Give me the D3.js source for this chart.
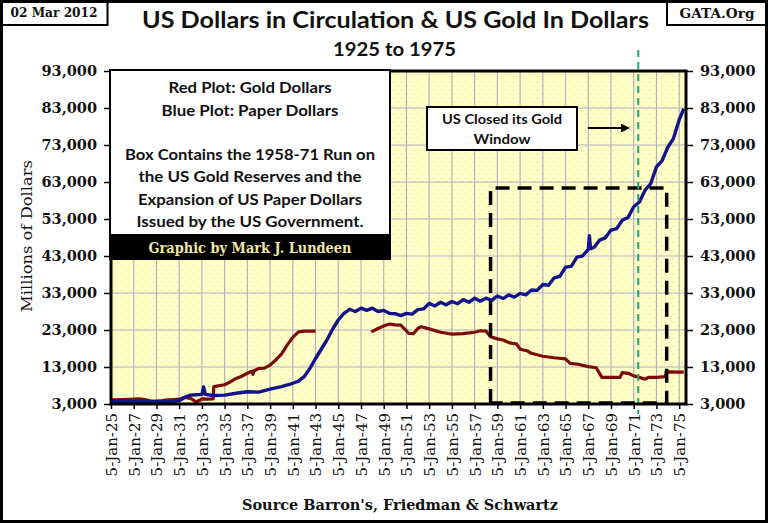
<!DOCTYPE html>
<html>
<head>
<meta charset="utf-8">
<script src="https://cdn.jsdelivr.net/npm/d3@7"></script>
<style>
  html, body { margin: 0; padding: 0; background: #fff; }
  svg { display: block; }
</style>
</head>
<body>
<svg id="chart" width="768" height="523"></svg>
<script>
// ---------------- DATA ----------------
const yTickValues = [3000, 13000, 23000, 33000, 43000, 53000, 63000, 73000, 83000, 93000];
const xTickYears = d3.range(1925, 1976, 2);
const xTickLabels = xTickYears.map(y => "5-Jan-" + String(y).slice(2));

// Blue plot: paper dollars (millions)
const blueYears = [1925, 1926, 1927, 1928, 1929, 1930, 1930.5, 1931, 1931.5, 1932, 1932.5, 1933, 1933.15, 1933.3,
  1934, 1935, 1936, 1937, 1938, 1939, 1940, 1941, 1941.5, 1942, 1942.5, 1943, 1943.5, 1944, 1944.5, 1945, 1945.5,
  1946, 1946.5, 1947, 1947.5, 1948, 1948.5, 1949, 1949.5, 1950, 1950.5, 1951, 1951.5, 1952, 1952.5, 1953, 1953.5,
  1954, 1954.5, 1955, 1955.5, 1956, 1956.5, 1957, 1957.5, 1958, 1958.5, 1959, 1959.5, 1960, 1960.5, 1961, 1961.5,
  1962, 1962.5, 1963, 1963.5, 1964, 1964.5, 1965, 1965.5, 1966, 1966.5, 1967, 1967.1, 1967.2, 1967.5, 1968, 1968.5,
  1969, 1969.5, 1970, 1970.5, 1971, 1971.5, 1972, 1972.5, 1973, 1973.5, 1974, 1974.5, 1975, 1975.4];
const blueValues = [3700, 3800, 3700, 3700, 3600, 3600, 3700, 3900, 4800, 5400, 5500, 5600, 7600, 5600,
  5300, 5400, 5900, 6300, 6200, 7000, 7700, 8600, 9200, 10400, 12600, 15300, 17800, 20300, 23200, 25700, 27500,
  28600, 28000, 28900, 28300, 28900, 28000, 28300, 27500, 27400, 26900, 27500, 27300, 28500, 28700, 30200, 29500,
  30500, 29800, 30700, 30100, 31200, 30500, 31600, 30800, 31600, 31000, 32200, 31500, 32500, 31900, 32900, 32500,
  33800, 33700, 35300, 35100, 37100, 37500, 40000, 40200, 42700, 43000, 44800, 48500, 45000, 45300, 47300, 47900,
  50000, 50400, 52700, 53400, 56300, 57600, 60800, 62600, 67100, 68800, 72400, 74800, 79800, 82800];

// Red plot: gold dollars (millions); null = no data
const redYears = [1925, 1926, 1927, 1927.5, 1928, 1928.5, 1929, 1929.5, 1930, 1930.5, 1931, 1931.5, 1932, 1932.5,
  1932.8, 1933, 1933.5, 1933.99, 1934.05, 1935, 1935.5, 1936, 1936.5, 1937, 1937.4, 1937.5, 1937.6, 1938, 1938.5,
  1939, 1939.5, 1940, 1940.5, 1941, 1941.5, 1942, 1943, 1943.1, 1947.9, 1948.5, 1949, 1949.5, 1950, 1950.5, 1950.8,
  1951.2, 1951.6, 1952, 1952.3, 1953, 1954, 1955, 1956, 1957, 1957.5, 1958, 1958.4, 1959, 1959.5, 1960, 1960.7,
  1961, 1961.6, 1962, 1963, 1964, 1965, 1965.4, 1966, 1967, 1967.7, 1968.2, 1969.8, 1970, 1970.5, 1971, 1971.5,
  1972, 1972.3, 1973, 1973.8, 1973.85, 1975.4];
const redValues = [4100, 4200, 4300, 4400, 4200, 3800, 3800, 3900, 4100, 4200, 4300, 4800, 4500, 3600,
  4000, 4400, 4300, 4400, 7700, 8200, 9000, 9900, 10500, 11300, 11900, 11000, 12000, 12600, 12700,
  13500, 14900, 16500, 18900, 21000, 22500, 22700, 22700, null, 22500, 23400, 24100, 24600, 24400, 24300, 23400,
  22100, 22000, 23400, 23900, 23300, 22400, 21900, 22000, 22400, 22800, 22700, 21200, 20600, 20300, 19600, 19200,
  17800, 17400, 16700, 15900, 15500, 15200, 14000, 13800, 13100, 12800, 10200, 10200, 11500, 11300, 10600, 10200,
  9700, 10200, 10200, 10400, 11700, 11600];

// Annotation values
const boxYears = [1958.4, 1973.9];
const boxValues = [3300, 61400];
const goldWindowYear = 1971.4;
const legendLines = ["Red Plot: Gold Dollars", "Blue Plot: Paper Dollars", "",
  "Box Contains the 1958-71 Run on", "the US Gold Reserves and the",
  "Expansion of US Paper Dollars", "Issued by the US Government."];

// ---------------- DRAW ----------------
const svg = d3.select("#chart");
const W = 768, H = 523;
const L = 111, R = 686, T = 71, B = 404;

const x = d3.scaleLinear().domain([1925, 1975.6]).range([L, R]);
const y = d3.scaleLinear().domain([3000, 93000]).range([B, T]);

const defs = svg.append("defs");
const pat = defs.append("pattern").attr("id", "dots").attr("patternUnits", "userSpaceOnUse")
  .attr("width", 8).attr("height", 8);
pat.append("rect").attr("width", 8).attr("height", 8).attr("fill", "#FFFFC6");
pat.append("rect").attr("x", 1).attr("y", 2).attr("width", 1).attr("height", 1).attr("fill", "#B6E6A0");
pat.append("rect").attr("x", 5).attr("y", 6).attr("width", 1).attr("height", 1).attr("fill", "#C6ECB0");

// background
svg.append("rect").attr("width", W).attr("height", H).attr("fill", "#fff");

// plot area
svg.append("rect").attr("x", L).attr("y", T).attr("width", R - L).attr("height", B - T).attr("fill", "url(#dots)");

// gridlines
const grid = svg.append("g");
grid.selectAll(".vg").data(xTickYears.slice(1)).join("line")
  .attr("x1", d => x(d)).attr("x2", d => x(d)).attr("y1", T).attr("y2", B)
  .attr("stroke", "#B2B2C4").attr("stroke-width", 1.2);
grid.selectAll(".hg").data(yTickValues.slice(1, -1)).join("line")
  .attr("x1", L).attr("x2", R).attr("y1", d => y(d)).attr("y2", d => y(d))
  .attr("stroke", "#B2B2C4").attr("stroke-width", 1.2);

// series
const redData = redYears.map((t, i) => ({ t, v: redValues[i] }));
const blueData = blueYears.map((t, i) => ({ t, v: blueValues[i] }));
const line = d3.line().defined(d => d.v != null).x(d => x(d.t)).y(d => y(d.v));

svg.append("path").datum(redData).attr("d", line).attr("fill", "none")
  .attr("stroke", "#7F0A0A").attr("stroke-width", 3.2).attr("stroke-linejoin", "round");
svg.append("path").datum(blueData).attr("d", line).attr("fill", "none")
  .attr("stroke", "#14148A").attr("stroke-width", 3.4).attr("stroke-linejoin", "round");

// dashed box
const bx0 = x(boxYears[0]), bx1 = x(boxYears[1]), by0 = y(boxValues[0]), by1 = y(boxValues[1]);
svg.append("path")
  .attr("d", `M${bx0},${by0} L${bx0},${by1} L${bx1},${by1} L${bx1},${by0} L${bx0},${by0}`)
  .attr("fill", "none").attr("stroke", "#000").attr("stroke-width", 3.5)
  .attr("stroke-dasharray", "14,8");

// green gold window line
svg.append("line").attr("x1", x(goldWindowYear)).attr("x2", x(goldWindowYear))
  .attr("y1", 50).attr("y2", 414)
  .attr("stroke", "#1BA57A").attr("stroke-width", 2).attr("stroke-dasharray", "7,5");

// plot border
svg.append("rect").attr("x", L).attr("y", T).attr("width", R - L).attr("height", B - T)
  .attr("fill", "none").attr("stroke", "#000").attr("stroke-width", 3);

// axes
const yFmt = d3.format(",");
const leftAxis = svg.append("g").attr("transform", `translate(${L},0)`)
  .call(d3.axisLeft(y).tickValues(yTickValues).tickFormat(yFmt).tickSize(7).tickPadding(7));
const rightAxis = svg.append("g").attr("transform", `translate(${R},0)`)
  .call(d3.axisRight(y).tickValues(yTickValues).tickFormat(yFmt).tickSize(7).tickPadding(7));
[leftAxis, rightAxis].forEach(a => {
  a.select(".domain").remove();
  a.selectAll(".tick line").attr("stroke", "#000").attr("stroke-width", 1.5);
  a.selectAll(".tick text").attr("font-family", "DejaVu Serif").attr("font-weight", "bold")
    .attr("font-size", 14.5).attr("fill", "#111");
});

const bottomAxis = svg.append("g").attr("transform", `translate(0,${B})`)
  .call(d3.axisBottom(x).tickValues(xTickYears).tickFormat((d, i) => xTickLabels[i]).tickSize(5).tickPadding(3));
bottomAxis.select(".domain").remove();
bottomAxis.selectAll(".tick line").attr("stroke", "#000").attr("stroke-width", 1.5);
bottomAxis.selectAll(".tick text")
  .attr("transform", "rotate(-90)")
  .attr("x", -9).attr("y", 0).attr("dy", "0.36em")
  .attr("text-anchor", "end")
  .attr("font-family", "DejaVu Serif").attr("font-size", 15).attr("fill", "#111");

// legend box
svg.append("rect").attr("x", 110).attr("y", 70).attr("width", 280).attr("height", 165)
  .attr("fill", "#fff").attr("stroke", "#000").attr("stroke-width", 2);
svg.append("rect").attr("x", 109).attr("y", 235).attr("width", 282).attr("height", 25).attr("fill", "#000");
const legendY = [88, 110.5, null, 154.5, 177, 199.5, 222];
const legendW = [163, 177, 0, 250, 223, 224, 227];
legendLines.forEach((s, i) => {
  if (!s) return;
  svg.append("text").attr("x", 250).attr("y", legendY[i]).attr("dy", "0.35em")
    .attr("text-anchor", "middle").attr("font-family", "Lato").attr("font-weight", "bold")
    .attr("font-size", 15.5).attr("fill", "#111")
    .attr("textLength", legendW[i]).attr("lengthAdjust", "spacingAndGlyphs").text(s);
});
svg.append("text").attr("x", 250).attr("y", 248).attr("dy", "0.35em").attr("text-anchor", "middle")
  .attr("font-family", "DejaVu Serif").attr("font-weight", "bold").attr("font-size", 14)
  .attr("fill", "#F0E6A4").attr("textLength", 203).attr("lengthAdjust", "spacingAndGlyphs")
  .text("Graphic by Mark J. Lundeen");

// gold window annotation
svg.append("rect").attr("x", 427).attr("y", 107).attr("width", 150).attr("height", 43)
  .attr("fill", "#fff").attr("stroke", "#000").attr("stroke-width", 2);
svg.append("text").attr("x", 502).attr("y", 119).attr("dy", "0.35em").attr("text-anchor", "middle")
  .attr("font-family", "Lato").attr("font-weight", "bold").attr("font-size", 14).attr("fill", "#111")
  .attr("textLength", 120).attr("lengthAdjust", "spacingAndGlyphs").text("US Closed its Gold");
svg.append("text").attr("x", 502).attr("y", 139).attr("dy", "0.35em").attr("text-anchor", "middle")
  .attr("font-family", "Lato").attr("font-weight", "bold").attr("font-size", 14).attr("fill", "#111")
  .attr("textLength", 57).attr("lengthAdjust", "spacingAndGlyphs").text("Window");
defs.append("marker").attr("id", "arrow").attr("viewBox", "0 0 10 10").attr("refX", 9).attr("refY", 5)
  .attr("markerWidth", 4).attr("markerHeight", 4).attr("orient", "auto")
  .append("path").attr("d", "M0,0 L10,5 L0,10 z").attr("fill", "#000");
svg.append("line").attr("x1", 588).attr("x2", 629).attr("y1", 128).attr("y2", 128)
  .attr("stroke", "#000").attr("stroke-width", 2.2).attr("marker-end", "url(#arrow)");

// titles
svg.append("text").attr("x", 395.5).attr("y", 28).attr("text-anchor", "middle")
  .attr("font-family", "Lato").attr("font-weight", "bold").attr("font-size", 23).attr("fill", "#111")
  .attr("textLength", 507).attr("lengthAdjust", "spacingAndGlyphs")
  .text("US Dollars in Circulation & US Gold In Dollars");
svg.append("text").attr("x", 394.5).attr("y", 56).attr("text-anchor", "middle")
  .attr("font-family", "Lato").attr("font-weight", "bold").attr("font-size", 19).attr("fill", "#111")
  .attr("textLength", 123).attr("lengthAdjust", "spacingAndGlyphs").text("1925 to 1975");

// axis titles
svg.append("text").attr("transform", "translate(27,236) rotate(-90)").attr("text-anchor", "middle")
  .attr("dy", "0.35em").attr("font-family", "DejaVu Serif").attr("font-size", 15).attr("fill", "#111")
  .attr("textLength", 152).attr("lengthAdjust", "spacingAndGlyphs").text("Millions of Dollars");
svg.append("text").attr("x", 400).attr("y", 510).attr("text-anchor", "middle")
  .attr("font-family", "DejaVu Serif").attr("font-weight", "bold").attr("font-size", 15).attr("fill", "#111")
  .attr("textLength", 316).attr("lengthAdjust", "spacingAndGlyphs").text("Source Barron's, Friedman & Schwartz");

// date and site boxes
svg.append("rect").attr("x", 1.5).attr("y", 1.5).attr("width", 106).attr("height", 23.5)
  .attr("fill", "#fff").attr("stroke", "#000").attr("stroke-width", 2);
svg.append("text").attr("x", 54).attr("y", 13).attr("dy", "0.35em").attr("text-anchor", "middle")
  .attr("font-family", "DejaVu Serif").attr("font-weight", "bold").attr("font-size", 12.5).attr("fill", "#111")
  .attr("textLength", 87).attr("lengthAdjust", "spacingAndGlyphs").text("02 Mar 2012");
svg.append("rect").attr("x", 667).attr("y", 1.5).attr("width", 99.5).attr("height", 23.5)
  .attr("fill", "#fff").attr("stroke", "#000").attr("stroke-width", 2);
svg.append("text").attr("x", 717).attr("y", 13).attr("dy", "0.35em").attr("text-anchor", "middle")
  .attr("font-family", "DejaVu Serif").attr("font-weight", "bold").attr("font-size", 13).attr("fill", "#111")
  .attr("textLength", 75).attr("lengthAdjust", "spacingAndGlyphs").text("GATA.Org");

// outer frame
svg.append("rect").attr("x", 1.5).attr("y", 1.5).attr("width", W - 3).attr("height", H - 3)
  .attr("fill", "none").attr("stroke", "#000").attr("stroke-width", 3);
</script>
</body>
</html>
